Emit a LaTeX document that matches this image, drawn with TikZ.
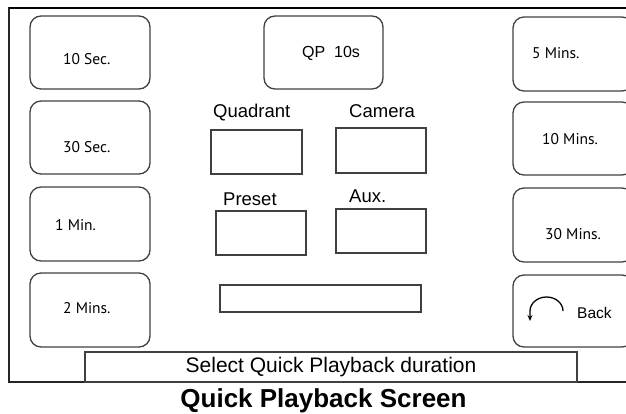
\documentclass[tikz,border=0pt]{standalone}
\usepackage{fontspec}
\setmainfont{Liberation Sans}
\newfontfamily\btnfont{PT Sans}
\usetikzlibrary{arrows.meta}

\begin{document}
\begin{tikzpicture}[x=1pt,y=-1pt,
  btn/.style={draw=black!75,line width=1.3pt,rounded corners=11pt,minimum width=120pt,minimum height=73pt,inner sep=0pt},
  btntext/.style={font=\btnfont\fontsize{15.5}{18}\selectfont,inner sep=0pt,anchor=base west},
  field/.style={draw=black!75,line width=1.4pt,inner sep=0pt},
  caption/.style={font=\fontsize{18.5}{22}\selectfont,inner sep=0pt,anchor=base west}]
  \useasboundingbox (0,0) rectangle (626,413);
  \clip (0,0) rectangle (626,413);
  % screen frame
  \draw[line width=1.2pt,black!85] (9,8) rectangle (640,382);
  \draw[line width=2.2pt] (9,8) -- (640,8);
  % left column
  \node[btn] (s10) at (90,52.5) {};
  \node[btntext] (ts10) at (63,64) {10 Sec.};
  \node[btn] (s30) at (90,137.5) {};
  \node[btntext] (ts30) at (63,152) {30 Sec.};
  \node[btn,minimum height=74pt] (m1) at (90,224) {};
  \node[btntext] (tm1) at (55,230) {1 Min.};
  \node[btn,minimum height=74pt] (m2) at (90,310) {};
  \node[btntext] (tm2) at (63,313) {2 Mins.};
  % right column
  \node[btn,minimum height=74pt] (m5) at (573,54) {};
  \node[btntext] (tm5) at (532,58) {5 Mins.};
  \node[btn] (m10) at (573,138.5) {};
  \node[btntext] (tm10) at (542,144) {10 Mins.};
  \node[btn,minimum height=74pt] (m30) at (573,225) {};
  \node[btntext] (tm30) at (545,239) {30 Mins.};
  \node[btn,minimum height=72pt] (back) at (573,311) {};
  \node[caption,font=\fontsize{15.5}{18}\selectfont] (tback) at (577,318) {Back};
  \draw[line width=1.3pt,-{Stealth[length=6pt,width=5pt]}] (563,311) arc[start angle=0,end angle=180,x radius=16.5pt,y radius=14pt] -- (530,321);
  % middle
  \node[btn,minimum width=119pt] (qp) at (323.5,52.5) {};
  \node[caption,font=\fontsize{16}{18}\selectfont] (tqp) at (302,57) {QP~~10s};
  \node[caption] (tquad) at (213,117) {Quadrant};
  \node[field,minimum width=91pt,minimum height=44pt] (quad) at (256.5,152) {};
  \node[caption] (tcam) at (349,117) {Camera};
  \node[field,minimum width=90pt,minimum height=45pt] (cam) at (381,150.5) {};
  \node[caption] (tpre) at (223,205) {Preset};
  \node[field,minimum width=90pt,minimum height=44pt] (pre) at (261,233) {};
  \node[caption] (taux) at (349,202) {Aux.};
  \node[field,minimum width=90pt,minimum height=44pt] (aux) at (381,231) {};
  \node[field,minimum width=201pt,minimum height=27pt] (entry) at (320.5,298.5) {};
  % status line and title
  \node[field,minimum width=492pt,minimum height=30pt,font=\fontsize{21}{24}\selectfont] (status) at (331,367) {Select Quick Playback duration};
  \node[inner sep=0pt,anchor=base,font=\bfseries\fontsize{26}{28}\selectfont] (title) at (323.5,407) {Quick Playback Screen};
\end{tikzpicture}
\end{document}
